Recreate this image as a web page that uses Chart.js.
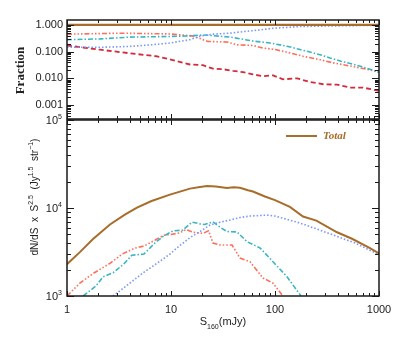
<!DOCTYPE html>
<html>
<head>
<meta charset="utf-8">
<script src="https://cdn.jsdelivr.net/npm/chart.js@4/dist/chart.umd.min.js"></script>
<style>
  html, body { margin:0; padding:0; background:#fff; }
  #wrap { position:relative; width:399px; height:342px; overflow:hidden; }
  #wrap canvas { position:absolute; left:0; }
  #topChart { top:0; }
  #botChart { top:110px; }
</style>
</head>
<body>
<div id="wrap">
  <canvas id="topChart" width="399" height="122"></canvas>
  <canvas id="botChart" width="399" height="232"></canvas>
</div>
<script>
// --- top panel: fraction of the total counts, x = S160 (mJy)
const fracTotalS  = [1, 1000];
const fracTotal   = [1, 1];
const fracBlueS   = [1, 2.08, 4.03, 6.5, 9.78, 15.2, 19, 25, 36.9, 49.2, 71.7, 95.7, 174, 361, 1000];
const fracBlue    = [0.145, 0.145, 0.157, 0.18, 0.21, 0.28, 0.38, 0.45, 0.49, 0.56, 0.65, 0.75, 0.87, 0.92, 0.97];
const fracCyanS   = [1, 2.08, 4.03, 9.78, 15.2, 20.3, 25, 36.9, 49.2, 61, 89.5, 130, 174, 271, 338, 430, 650, 1000];
const fracCyan    = [0.28, 0.30, 0.35, 0.37, 0.39, 0.42, 0.40, 0.35, 0.29, 0.25, 0.21, 0.16, 0.12, 0.077, 0.058, 0.044, 0.029, 0.017];
const fracOrangeS = [1, 3.23, 9.78, 15.9, 19, 22.5, 34.5, 43, 61.4, 76.7, 100, 139, 186, 271, 361, 526, 760, 1000];
const fracOrange  = [0.45, 0.49, 0.46, 0.39, 0.31, 0.24, 0.23, 0.18, 0.17, 0.137, 0.12, 0.09, 0.067, 0.05, 0.038, 0.029, 0.022, 0.017];
const fracRedS    = [1, 2.08, 4.31, 7.33, 10.4, 15.2, 20.3, 25.3, 31.5, 39.6, 49.2, 61.4, 76.7, 95.7, 119, 163, 217, 291, 395, 526, 700, 1000];
const fracRed     = [0.17, 0.118, 0.084, 0.067, 0.048, 0.033, 0.031, 0.023, 0.022, 0.019, 0.017, 0.014, 0.012, 0.013, 0.0092, 0.010, 0.0073, 0.006, 0.0058, 0.0045, 0.0045, 0.0034];

// --- bottom panel: Euclidean-normalised counts dN/dS x S^2.5
const cntTotalS  = [1, 1.33, 1.78, 2.59, 3.6, 4.71, 6.5, 9.78, 15.2, 19, 22.2, 27, 34.5, 40, 46, 55, 61.4, 80, 100, 139, 186, 250, 395, 550, 819, 1000];
const cntTotal   = [2300, 3150, 4450, 6500, 8400, 10100, 12000, 14200, 16600, 17300, 17800, 17600, 16900, 17200, 17000, 15900, 15400, 13500, 12300, 10300, 8000, 7200, 5300, 4470, 3500, 3050];
const cntBlueS   = [2.77, 4.03, 5.38, 7.33, 9.78, 12, 15.2, 19, 23.7, 29.6, 36.9, 46, 57.5, 83.7, 100, 119, 174, 271, 588, 1000];
const cntBlue    = [1000, 1400, 1830, 2350, 3000, 3700, 4600, 5400, 6400, 6900, 7300, 7800, 8100, 8300, 8100, 7650, 6750, 5600, 4000, 2950];
const cntCyanS   = [1.43, 1.9, 2.22, 2.8, 3.5, 4.2, 5.5, 7.0, 8.5, 10.5, 13, 15.9, 19, 21, 25.3, 30, 34.5, 43.1, 53.8, 71.7, 95.7, 130, 166, 178];
const cntCyan    = [1000, 1300, 1650, 1850, 2300, 2900, 3000, 4000, 4800, 5500, 5600, 6900, 6600, 6500, 6950, 6000, 5400, 5350, 4140, 3520, 2450, 1660, 1120, 1000];
const cntOrangeS = [1, 1.33, 1.78, 2.59, 3.4, 4.5, 5.5, 7, 8.5, 10, 12, 14, 16.2, 20.3, 23, 25.3, 29.6, 38.6, 46, 57.5, 76.7, 95.7, 119];
const cntOrange  = [1000, 1400, 1800, 2350, 3000, 3500, 3700, 4300, 4900, 5000, 5200, 5700, 5300, 5150, 5500, 4000, 3800, 3800, 2700, 2450, 1600, 1400, 1000];

// axis limits and tick labels
const xMin = 1, xMax = 1000;
const xTickVals = [1, 10, 100, 1000];
const xTickLabels = ['1', '10', '100', '1000'];
const fracMin = 0.00033, fracMax = 1.53;
const fracTickVals = [1, 0.1, 0.01, 0.001];
const fracTickLabels = ['1.000', '0.100', '0.010', '0.001'];
const cntMin = 1000, cntMax = 100000;
const cntTickVals = [1000, 10000, 100000];
const cntTickExp = ['3', '4', '5'];

const COL = { total:'#a86d2b', red:'#d22b3c', orange:'#ff6e5a', cyan:'#3bb5c6', blue:'#7896ff' };
const SANS = "'Liberation Sans', Arial, sans-serif";
const SERIF = "'Liberation Serif', 'Times New Roman', serif";

function pts(xs, ys){ return xs.map((x, i) => ({ x, y: ys[i] })); }

function line(label, xs, ys, color, dash, width){
  return { label, data: pts(xs, ys), borderColor: color, borderDash: dash, borderWidth: width,
           pointRadius: 0, fill: false, tension: 0 };
}

function logTicks(min, max){
  const out = [];
  for (let e = Math.floor(Math.log10(min)); e <= Math.ceil(Math.log10(max)); e++){
    for (let m = 1; m <= 9; m++){
      const v = m * Math.pow(10, e);
      if (v >= min * 0.999999 && v <= max * 1.000001) out.push({ v, major: m === 1 });
    }
  }
  return out;
}

// draws parts [{t, font, dy}] as one run of text
function drawRich(ctx, x, y, parts, align){
  let w = 0;
  parts.forEach(p => { ctx.font = p.font; p.w = ctx.measureText(p.t).width; w += p.w; });
  let cx = align === 'right' ? x - w : align === 'center' ? x - w / 2 : x;
  ctx.textAlign = 'left';
  ctx.textBaseline = 'middle';
  parts.forEach(p => { ctx.font = p.font; ctx.fillText(p.t, cx, y + (p.dy || 0)); cx += p.w; });
}

// IDL style frame: box + inward ticks on all four sides
function drawFrame(chart){
  const { ctx } = chart;
  const { left, right, top, bottom } = chart.chartArea;
  const xs = chart.scales.x, ys = chart.scales.y;
  ctx.save();
  ctx.strokeStyle = '#1a1a1a';
  ctx.lineWidth = 1;
  ctx.beginPath();
  logTicks(xs.min, xs.max).forEach(t => {
    const px = Math.round(xs.getPixelForValue(t.v)) + 0.5, len = t.major ? 5 : 3;
    ctx.moveTo(px, bottom); ctx.lineTo(px, bottom - len);
    ctx.moveTo(px, top); ctx.lineTo(px, top + len);
  });
  logTicks(ys.min, ys.max).forEach(t => {
    const py = Math.round(ys.getPixelForValue(t.v)) + 0.5, len = t.major ? 7 : 4;
    ctx.moveTo(left, py); ctx.lineTo(left + len, py);
    ctx.moveTo(right, py); ctx.lineTo(right - len, py);
  });
  ctx.stroke();
  ctx.lineWidth = 1.5;
  ctx.strokeRect(left, top, right - left, bottom - top);
  ctx.restore();
}

const topFrame = {
  id: 'topFrame',
  afterDatasetsDraw(chart){
    const { ctx } = chart;
    const ys = chart.scales.y;
    const { left, top, bottom } = chart.chartArea;
    drawFrame(chart);
    ctx.save();
    ctx.fillStyle = '#222';
    fracTickVals.forEach((v, i) => {
      drawRich(ctx, left - 4, ys.getPixelForValue(v), [{ t: fracTickLabels[i], font: '11px ' + SANS }], 'right');
    });
    ctx.translate(21, (top + bottom) / 2 + 1);
    ctx.rotate(-Math.PI / 2);
    drawRich(ctx, 0, 0, [{ t: 'Fraction', font: 'bold 13px ' + SERIF }], 'center');
    ctx.restore();
  }
};

const botFrame = {
  id: 'botFrame',
  afterDatasetsDraw(chart){
    const { ctx } = chart;
    const xs = chart.scales.x, ys = chart.scales.y;
    const { left, right, top, bottom } = chart.chartArea;
    drawFrame(chart);
    ctx.save();
    ctx.fillStyle = '#222';
    cntTickVals.forEach((v, i) => {
      drawRich(ctx, left - 5, ys.getPixelForValue(v), [
        { t: '10', font: '11px ' + SANS, dy: 1 },
        { t: cntTickExp[i], font: '7px ' + SANS, dy: -3 }
      ], 'right');
    });
    xTickVals.forEach((v, i) => {
      drawRich(ctx, xs.getPixelForValue(v), bottom + 14, [{ t: xTickLabels[i], font: '11px ' + SANS }], 'center');
    });
    drawRich(ctx, (left + right) / 2, bottom + 26, [
      { t: 'S', font: '11px ' + SANS },
      { t: '160', font: '7px ' + SANS, dy: 5 },
      { t: '(mJy)', font: '11px ' + SANS }
    ], 'center');
    ctx.save();
    ctx.translate(35, (top + bottom) / 2 - 11);
    ctx.rotate(-Math.PI / 2);
    const f = '10px ' + SANS, s = '7px ' + SANS;
    drawRich(ctx, 0, 0, [
      { t: 'dN/dS  x  S', font: f },
      { t: '2.5', font: s, dy: -4 },
      { t: '  (Jy', font: f },
      { t: '1.5', font: s, dy: -4 },
      { t: '  str', font: f },
      { t: '\u22121', font: s, dy: -4 },
      { t: ')', font: f }
    ], 'center');
    ctx.restore();
    // legend: only the total is labelled
    const ds = chart.data.datasets[0];
    const ly = top + 16;
    ctx.strokeStyle = ds.borderColor;
    ctx.lineWidth = ds.borderWidth;
    ctx.beginPath(); ctx.moveTo(286, ly); ctx.lineTo(317, ly); ctx.stroke();
    ctx.fillStyle = ds.borderColor;
    drawRich(ctx, 323, ly, [{ t: ds.label, font: 'italic bold 11px ' + SERIF }], 'left');
    ctx.restore();
  }
};

function makeChart(id, datasets, yMin, yMax, pad, plugin){
  return new Chart(document.getElementById(id), {
    type: 'line',
    data: { datasets },
    options: {
      responsive: false, animation: false, devicePixelRatio: 1,
      layout: { padding: pad },
      plugins: { legend: { display: false }, tooltip: { enabled: false } },
      scales: {
        x: { type: 'logarithmic', min: xMin, max: xMax, display: false },
        y: { type: 'logarithmic', min: yMin, max: yMax, display: false }
      }
    },
    plugins: [plugin]
  });
}

makeChart('topChart', [
  line('Total', fracTotalS, fracTotal, COL.total, [], 2.2),
  line('blue', fracBlueS, fracBlue, COL.blue, [1.5, 2], 1.6),
  line('cyan', fracCyanS, fracCyan, COL.cyan, [5, 2, 1.5, 2], 1.6),
  line('orange', fracOrangeS, fracOrange, COL.orange, [5, 2, 1.5, 2, 1.5, 2, 1.5, 2], 1.6),
  line('red', fracRedS, fracRed, COL.red, [5, 3], 1.8)
], fracMin, fracMax, { left: 67, right: 20, top: 20, bottom: 3 }, topFrame);

makeChart('botChart', [
  line('Total', cntTotalS, cntTotal, COL.total, [], 2),
  line('blue', cntBlueS, cntBlue, COL.blue, [1.5, 2], 1.6),
  line('cyan', cntCyanS, cntCyan, COL.cyan, [5, 2, 1.5, 2], 1.6),
  line('orange', cntOrangeS, cntOrange, COL.orange, [5, 2, 1.5, 2, 1.5, 2, 1.5, 2], 1.6)
], cntMin, cntMax, { left: 67, right: 20, top: 10, bottom: 46 }, botFrame);
</script>
</body>
</html>
